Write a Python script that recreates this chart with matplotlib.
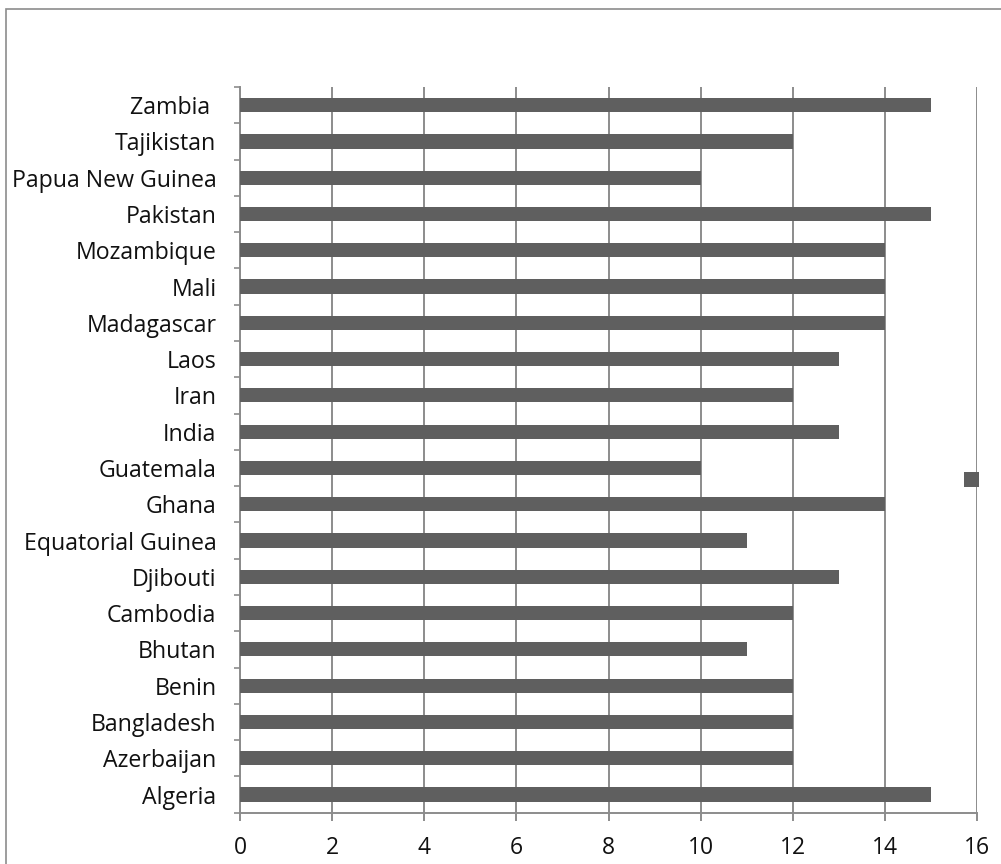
import matplotlib
matplotlib.use("Agg")
import matplotlib.pyplot as plt
from matplotlib.patches import Rectangle
import numpy as np

countries = ["Algeria", "Azerbaijan", "Bangladesh", "Benin", "Bhutan", "Cambodia",
             "Djibouti", "Equatorial Guinea", "Ghana", "Guatemala", "India", "Iran",
             "Laos", "Madagascar", "Mali", "Mozambique", "Pakistan",
             "Papua New Guinea", "Tajikistan", "Zambia "]
values = [15, 12, 12, 12, 11, 12, 13, 11, 14, 10, 13, 12, 13, 14, 14, 14, 15, 10, 12, 15]
x_ticks = [0, 2, 4, 6, 8, 10, 12, 14, 16]

bar_color = "#5f5f5f"
grid_color = "#8c8c8c"

plt.rcParams["font.family"] = ["Open Sans", "DejaVu Sans"]

W, H = 1001, 864
fig = plt.figure(figsize=(W / 100, H / 100), dpi=100)

# outer chart frame
fig.patches.append(Rectangle((5.5 / W, -0.1), 1.2, 1.1 - 8.5 / H,
                             transform=fig.transFigure, fill=False,
                             edgecolor=grid_color, linewidth=1.2))

ax = fig.add_axes([240 / W, 1 - 812.7 / H, (977 - 240) / W, (812.7 - 87) / H])

y = np.arange(len(countries))
ax.barh(y, values, height=0.39, color=bar_color, zorder=3)

ax.set_xlim(0, 16)
ax.set_ylim(-0.5, len(countries) - 0.5)
ax.set_xticks(x_ticks)
ax.set_xticklabels([str(t) for t in x_ticks])
ax.set_yticks(y)
ax.set_yticklabels(countries)
ax.set_yticks(np.arange(-0.5, len(countries), 1.0), minor=True)

ax.grid(axis="x", color=grid_color, linewidth=1.4, zorder=0)
ax.tick_params(axis="y", which="major", length=0, pad=17, labelsize=16.7, labelcolor="#111111")
ax.tick_params(axis="y", which="minor", length=4.5, width=1.2, color=grid_color, direction="out")
ax.tick_params(axis="x", length=6, width=1.4, color=grid_color, pad=11,
               labelsize=16.5, labelcolor="#111111")

for side in ("top", "right"):
    ax.spines[side].set_visible(False)
for side in ("left", "bottom"):
    ax.spines[side].set_color(grid_color)
    ax.spines[side].set_linewidth(1.4)

# legend key for the single series
fig.patches.append(Rectangle((964 / W, 1 - 487 / H), 15 / W, 15 / H,
                             transform=fig.transFigure, facecolor=bar_color,
                             edgecolor="none", zorder=5))

fig.savefig("out.png", dpi=100)
